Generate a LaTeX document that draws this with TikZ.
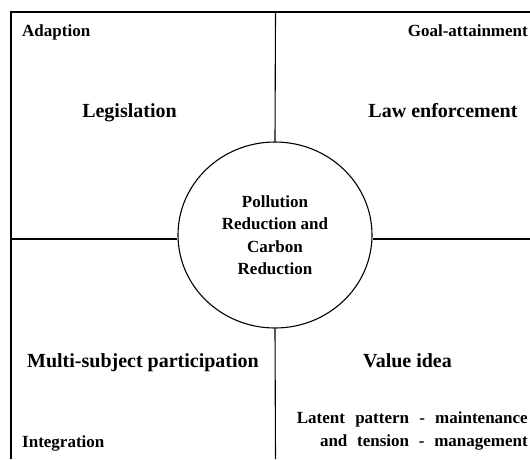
\documentclass[tikz,border=0pt]{standalone}
\usepackage{fontspec}
\setmainfont{Liberation Serif}
\usetikzlibrary{shapes.geometric}
\begin{document}
\begin{tikzpicture}[x=1pt,y=-1pt,
  ln/.style={line width=1.1pt,black},
  small/.style={font=\fontsize{17}{20}\selectfont\bfseries,inner sep=0pt},
  big/.style={font=\fontsize{20}{24}\selectfont\bfseries,inner sep=0pt}]
\useasboundingbox (0,0) rectangle (530,459);
\node[ellipse,draw,line width=1.1pt,minimum width=194pt,minimum height=186pt,inner sep=0pt,
  align=center,font=\fontsize{17}{22.5}\selectfont\bfseries] (c) at (275,235)
  {Pollution\\Reduction and\\Carbon\\Reduction};
\coordinate (tl) at (11,12);
\coordinate (tr) at (530,12);
\coordinate (bl) at (11,459);
\coordinate (tm) at (275.5,12);
\coordinate (bm) at (275.5,459);
\coordinate (ml) at (11,239);
\coordinate (mr) at (530,239);
\draw[ln] (tr) -- (tl) -- (bl);
\draw[ln] (tm) -- (c.north);
\draw[ln] (c.south) -- (bm);
\draw[ln] (ml) -- (c.west |- ml);
\draw[ln] (c.east |- mr) -- (mr);
\node[small,anchor=base west] (ad) at (22,36) {Adaption};
\node[small,anchor=base east] (ga) at (528,36) {Goal-attainment};
\node[big,anchor=base] (lg) at (129.5,117) {Legislation};
\node[big,anchor=base] (le) at (443,117) {Law enforcement};
\node[big,anchor=base] (ms) at (143,367) {Multi-subject participation};
\node[big,anchor=base] (vi) at (407.5,367) {Value idea};
\node[small,anchor=base west] (in) at (22,447) {Integration};
\node[small,anchor=base east] (lp1) at (528,423) {Latent\hspace{6pt} pattern\hspace{6pt} -\hspace{6pt} maintenance};
\node[small,anchor=base east] (lp2) at (528,446) {and\hspace{5.5pt} tension\hspace{5.5pt} -\hspace{5.5pt} management};
\end{tikzpicture}
\end{document}
